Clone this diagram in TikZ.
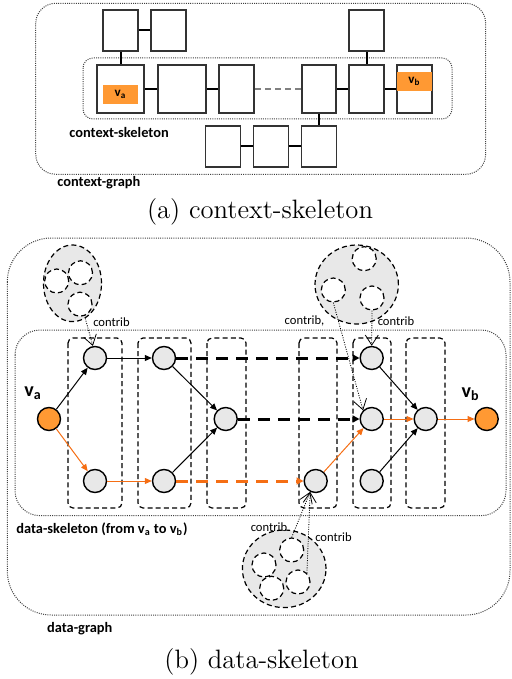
\documentclass[tikz,border=0pt]{standalone}
\usepackage{fontspec}
\setsansfont{Carlito}
\usetikzlibrary{arrows.meta,shapes.geometric}
\definecolor{vorange}{RGB}{255,153,51}
\definecolor{eorange}{RGB}{245,110,20}
\definecolor{nodegray}{RGB}{232,232,232}
\definecolor{clustgray}{RGB}{232,232,232}
\tikzset{
  box/.style={draw=black!80,line width=0.9pt,fill=white,inner sep=0pt,minimum height=24pt},
  sbox/.style={box,minimum width=17.5pt,minimum height=20.5pt},
  link/.style={line width=1pt},
  vbox/.style={fill=vorange,inner sep=0pt,minimum width=17.5pt,minimum height=9.5pt,font=\sffamily\bfseries\fontsize{6.5}{7}\selectfont},
  frame/.style={draw=black!75,line width=0.5pt,dash pattern=on 0.5pt off 0.6pt},
  col/.style={draw,line width=0.6pt,dash pattern=on 2.5pt off 1.6pt,rounded corners=2.5pt},
  dnode/.style={circle,draw,line width=0.7pt,fill=nodegray,inner sep=0pt,minimum size=11.5pt},
  arr/.style={line width=0.5pt,-{Triangle[length=3.5pt,width=3pt]}},
  thickdash/.style={line width=1.5pt,dash pattern=on 6pt off 4pt,-{Triangle[length=3.5pt,width=3.5pt]}},
  clust/.style={ellipse,draw,line width=0.6pt,dash pattern=on 2.5pt off 1.6pt,fill=clustgray,inner sep=0pt},
  inner/.style={circle,draw,line width=0.6pt,dash pattern=on 2.5pt off 1.6pt,fill=white,inner sep=0pt,minimum size=12pt},
  contrib/.style={line width=0.4pt,dash pattern=on 0.5pt off 0.7pt,-{Straight Barb[length=5pt,width=6.5pt]}},
  ctext/.style={inner sep=0pt,font=\sffamily\fontsize{6.3}{7}\selectfont},
  lbl/.style={inner sep=0pt,anchor=west,font=\sffamily\bfseries\fontsize{7.2}{8}\selectfont},
  vlbl/.style={inner sep=0pt,font=\sffamily\bfseries\fontsize{10}{11}\selectfont},
  captext/.style={inner sep=0pt,font=\fontsize{13.3}{16}\selectfont}
}
\begin{document}
\begin{tikzpicture}[x=0.5pt,y=-0.5pt]
\useasboundingbox (0,0) rectangle (511,679);
% (a) context-skeleton
\draw[frame,rounded corners=10pt] (35.7,3.3) rectangle (485.7,174.3);
\draw[frame,rounded corners=5pt] (83,58) rectangle (452,119);
\node[box,minimum width=23.5pt] (b1) at (120.5,89) {};
\node[box,minimum width=24pt] (b2) at (182,89) {};
\node[box,minimum width=17.5pt] (b3) at (236.5,89) {};
\node[box,minimum width=17pt] (b4) at (319,89) {};
\node[box,minimum width=17.5pt] (b5) at (366.5,89) {};
\node[box,minimum width=17.5pt] (b6) at (414.5,89) {};
\node[sbox] (t1) at (120.5,30.5) {};
\node[sbox] (t2) at (168.5,30.5) {};
\node[sbox] (t3) at (366.5,30.5) {};
\node[sbox] (d1) at (223,146.5) {};
\node[sbox] (d2) at (271,146.5) {};
\node[sbox] (d3) at (319,146.5) {};
\draw[link] (t1) -- (t2);
\draw[link] (t1) -- (b1);
\draw[link] (b1) -- (b2);
\draw[link] (b2) -- (b3);
\draw[link,gray,dash pattern=on 3pt off 2pt] (b3) -- (b4);
\draw[link] (b4) -- (b5);
\draw[link] (b5) -- (b6);
\draw[link] (t3) -- (b5);
\draw[link] (b4) -- (d3);
\draw[link] (d1) -- (d2);
\draw[link] (d2) -- (d3);
\node[vbox] (ava) at (120.5,94.5) {v\textsubscript{a}};
\node[vbox] (avb) at (414.5,81.5) {v\textsubscript{b}};
\node[lbl] (cskel) at (69,133) {context-skeleton};
\node[lbl] (cgraph) at (57,183) {context-graph};
\node[captext] (capa) at (260,212) {(a) context-skeleton};

% (b) data-skeleton
\draw[frame,rounded corners=22pt] (7.3,238) rectangle (510,615);
\draw[frame,rounded corners=12.5pt] (15,330) rectangle (506,515.7);
\foreach \xa/\xb in {68/122,138/191,207/246,299/337,353/391,406/445}
  \draw[col] (\xa,338) rectangle (\xb,508);
\node[dnode] (n1) at (95,358) {};
\node[dnode] (n2) at (164,358) {};
\node[dnode] (n3) at (225.7,419) {};
\node[dnode] (l1) at (95,481) {};
\node[dnode] (l2) at (164,481) {};
\node[dnode] (l3) at (315.7,481) {};
\node[dnode] (l4) at (371.7,481) {};
\node[dnode] (m1) at (371.7,358) {};
\node[dnode] (m2) at (371.7,419) {};
\node[dnode] (m3) at (425.7,419) {};
\node[dnode,fill=vorange] (va) at (49,419) {};
\node[dnode,fill=vorange] (vb) at (486.7,419) {};
\node[vlbl] (vaname) at (33,393) {v\textsubscript{a}};
\node[vlbl] (vbname) at (470.7,394) {v\textsubscript{b}};
\draw[arr] (va) -- (n1);
\draw[arr,eorange] (va) -- (l1);
\draw[arr] (n1) -- (n2);
\draw[arr] (n2) -- (n3);
\draw[thickdash] (n2) -- (m1);
\draw[thickdash] (n3) -- (m2);
\draw[arr,eorange] (l1) -- (l2);
\draw[arr] (l2) -- (n3);
\draw[thickdash,eorange] (l2) -- (l3);
\draw[arr,eorange] (l3) -- (m2);
\draw[arr] (m1) -- (m3);
\draw[arr,eorange] (m2) -- (m3);
\draw[arr] (l4) -- (m3);
\draw[arr,eorange] (m3) -- (vb);
% contributing groups
\node[clust,minimum width=29pt,minimum height=38.3pt] (g1) at (72.5,283.3) {};
\node[inner] (g1a) at (56.7,281) {};
\node[inner] (g1b) at (80.5,272.8) {};
\node[inner] (g1c) at (80,304.2) {};
\node[clust,minimum width=41.7pt,minimum height=39.5pt] (g2) at (356.7,284.5) {};
\node[inner] (g2a) at (364.2,258.7) {};
\node[inner] (g2b) at (333.3,290) {};
\node[inner] (g2c) at (372,298) {};
\node[clust,minimum width=41.8pt,minimum height=38.8pt] (g3) at (284.2,568.8) {};
\node[inner] (g3a) at (291.7,550) {};
\node[inner] (g3b) at (264,565) {};
\node[inner] (g3c) at (271.7,588.3) {};
\node[inner] (g3d) at (298,582) {};
\draw[contrib] (g1.-70) -- (n1.100);
\draw[contrib] (g2b.south) -- (m2.135);
\draw[contrib] (g2c.south) -- (m1.north);
\draw[contrib] (g3a.north) -- (l3.243);
\draw[contrib] (g3d.45) -- (l3.243);
\node[ctext] (c1) at (111.5,322) {contrib};
\node[ctext] (c2) at (304.5,320.7) {contrib,};
\node[ctext] (c3) at (396,320.7) {contrib};
\node[ctext] (c4) at (269,526.7) {contrib};
\node[ctext] (c5) at (333.5,536.7) {contrib};
\node[lbl] (dskel) at (16,529) {data-skeleton (from v\textsubscript{a} to v\textsubscript{b})};
\node[lbl] (dgraph) at (46.7,629) {data-graph};
\node[captext] (capb) at (261.5,662) {(b) data-skeleton};
\end{tikzpicture}
\end{document}
